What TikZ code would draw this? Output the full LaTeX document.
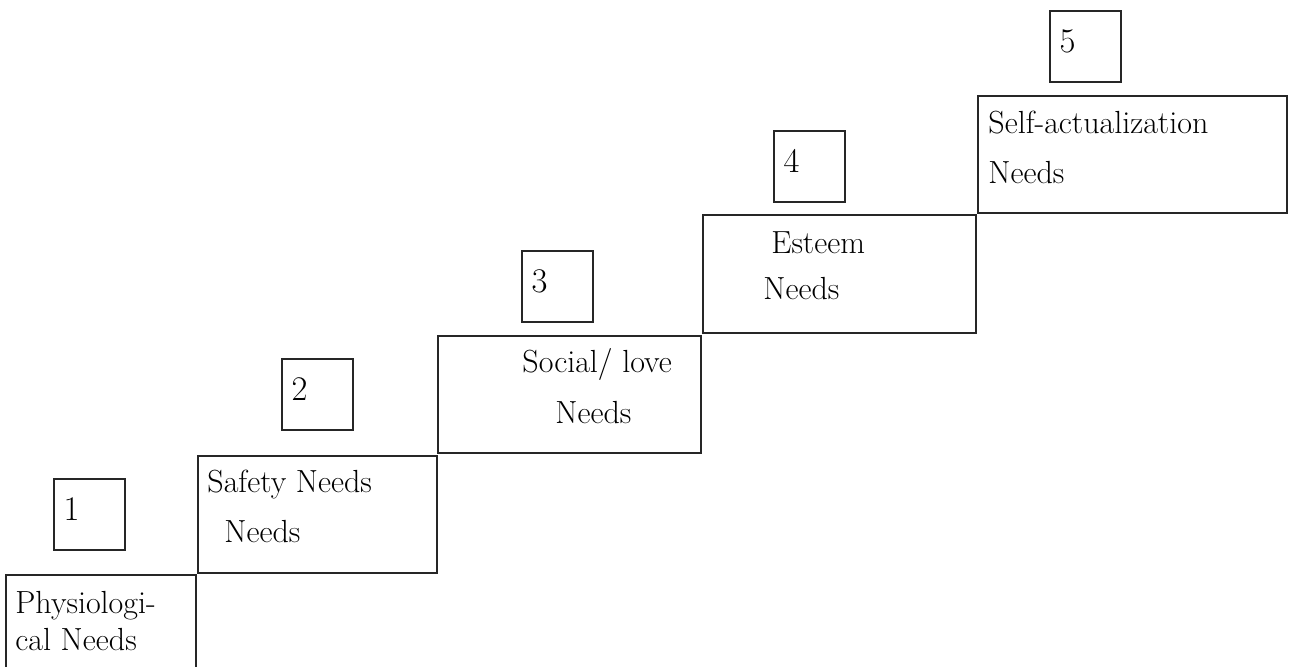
\documentclass[tikz,border=0pt]{standalone}
\usepackage{tikz}
\usetikzlibrary{positioning}

\begin{document}
\begin{tikzpicture}[
    x=0.5pt, y=-0.5pt,
    stair/.style={
        rectangle, draw=black!85, line width=1pt,
        inner sep=0pt, outer sep=0pt, anchor=north west
    },
    numbox/.style={
        rectangle, draw=black!85, line width=1pt,
        minimum width=35.5pt, minimum height=35.5pt,
        text width=26pt, align=left, inner xsep=4.5pt, inner ysep=0pt,
        text height=11pt, text depth=5.5pt,
        outer sep=0pt, anchor=north west,
        font=\fontsize{16}{18}\selectfont
    },
    lbl/.style={
        anchor=base west, inner sep=0pt,
        font=\fontsize{16}{18}\selectfont
    }
]

\useasboundingbox (0,0) rectangle (1289,666);
\clip (0,0) rectangle (1289,666);

% --- Steps ---
\node[stair, minimum width=95pt, minimum height=62.5pt] (phys) at (6,575) {};
\node[stair, minimum width=119.5pt, minimum height=58.5pt] (safety) at (198,456) {};
\node[stair, minimum width=131.5pt, minimum height=58.5pt] (social) at (438,336) {};
\node[stair, minimum width=136.5pt, minimum height=59pt] (esteem) at (703,215) {};
\node[stair, minimum width=154.5pt, minimum height=58.5pt] (selfact) at (978,96) {};

% --- Step numbers ---
\node[numbox] (n1) at (54,479) {$1$};
\node[numbox] (n2) at (282,359) {$2$};
\node[numbox] (n3) at (522,251) {$3$};
\node[numbox] (n4) at (774,131) {$4$};
\node[numbox] (n5) at (1050,11) {$5$};

% --- Labels ---
\node[lbl] (physA) at (15,613) {Physiologi-};
\node[lbl] (physB) at (15,650) {cal Needs};

\node[lbl] (safetyA) at (207,492) {Safety Needs};
\node[lbl] (safetyB) at (224,542) {Needs};

\node[lbl] (socialA) at (522,372) {Social/ love};
\node[lbl] (socialB) at (555,423) {Needs};

\node[lbl] (esteemA) at (771,253) {Esteem};
\node[lbl] (esteemB) at (763,299) {Needs};

\node[lbl] (selfactA) at (988,133) {Self-actualization};
\node[lbl] (selfactB) at (988,183) {Needs};

\end{tikzpicture}
\end{document}
